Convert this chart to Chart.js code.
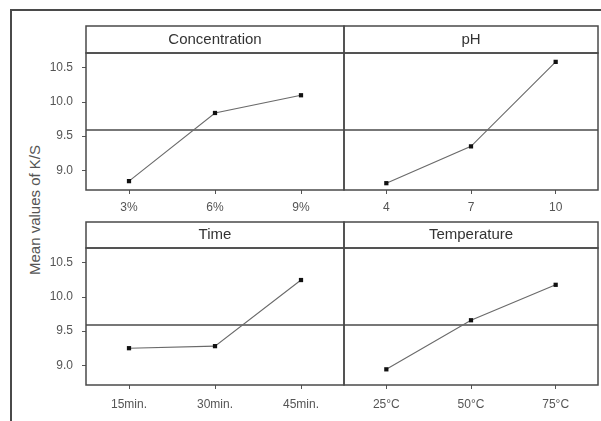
<!DOCTYPE html>
<html><head><meta charset="utf-8">
<script src="https://cdn.jsdelivr.net/npm/chart.js@4"></script>
<style>
html,body{margin:0;padding:0;background:#fff}
body{width:601px;height:421px;overflow:hidden;position:relative;font-family:"Liberation Sans",Arial,sans-serif}
#frame{position:absolute;left:10px;top:9px;width:620px;height:440px;border-left:2px solid #4a4a4a;border-top:2px solid #4a4a4a}
canvas{position:absolute}
#ytitle{position:absolute;left:34px;top:210px;transform:translate(-50%,-50%) rotate(-90deg);white-space:nowrap;font-size:15px;color:#555}
</style></head><body>
<div id="frame"></div>
<div id="ytitle">Mean values of K/S</div>
<canvas id="c1" width="310" height="196" style="left:36px;top:24px"></canvas>
<canvas id="c2" width="260" height="196" style="left:340px;top:24px"></canvas>
<canvas id="c3" width="310" height="195" style="left:36px;top:220px"></canvas>
<canvas id="c4" width="260" height="195" style="left:340px;top:220px"></canvas>
<script>
// ---- data ----
const concLabels = ['3%', '6%', '9%'];
const concValues = [8.84, 9.84, 10.10];
const phLabels = ['4', '7', '10'];
const phValues = [8.81, 9.35, 10.59];
const timeLabels = ['15min.', '30min.', '45min.'];
const timeValues = [9.25, 9.28, 10.25];
const tempLabels = ['25°C', '50°C', '75°C'];
const tempValues = [8.94, 9.66, 10.18];
const yTickValues = [9.0, 9.5, 10.0, 10.5];
const grandMean = 9.59;
const yMin = 8.71;
const yMax = 10.72;

const LINE = '#4a4a4a';
const FONT = '"Liberation Sans", Arial, sans-serif';

const panelPlugin = {
  id: 'panelBox',
  beforeDatasetsDraw(chart) {
    const {ctx, chartArea: a, scales} = chart;
    ctx.save();
    ctx.strokeStyle = LINE;
    ctx.lineWidth = 1.5;
    ctx.strokeRect(a.left, 2, a.right - a.left, a.top - 2);
    ctx.strokeRect(a.left, a.top, a.right - a.left, a.bottom - a.top);
    const y = scales.y.getPixelForValue(grandMean);
    ctx.lineWidth = 1.3;
    ctx.beginPath();
    ctx.moveTo(a.left, y);
    ctx.lineTo(a.right, y);
    ctx.stroke();
    ctx.restore();
  }
};

function makePanel(id, title, labels, values, opts) {
  const showY = opts.showY;
  new Chart(document.getElementById(id), {
    type: 'line',
    data: {
      labels: labels,
      datasets: [{
        data: values,
        borderColor: '#6a6a6a',
        borderWidth: 1.1,
        pointBackgroundColor: '#111',
        pointBorderColor: '#111',
        pointRadius: 3,
        pointBorderWidth: 0,
        pointStyle: 'rect',
        tension: 0,
        fill: false
      }]
    },
    options: {
      responsive: false,
      animation: false,
      devicePixelRatio: 1,
      layout: {autoPadding: false, padding: {left: showY ? 0 : 4, right: 2, top: 0, bottom: 0}},
      plugins: {
        legend: {display: false},
        tooltip: {enabled: false},
        title: {
          display: true,
          text: title,
          fullSize: false,
          color: '#333',
          font: {family: FONT, size: 15, weight: 'normal', lineHeight: '17px'},
          padding: {top: opts.titleTop, bottom: 5}
        }
      },
      scales: {
        x: {
          type: 'category',
          offset: true,
          border: {display: false},
          grid: {display: true, drawOnChartArea: false, drawTicks: true, tickLength: 4, color: '#555', tickColor: '#555'},
          ticks: {color: '#555', font: {family: FONT, size: 12}, padding: opts.xPad, maxRotation: 0, autoSkip: false},
          afterFit(s) { s.height = 30; }
        },
        y: {
          display: showY,
          min: yMin,
          max: yMax,
          border: {display: false},
          grid: {display: true, drawOnChartArea: false, drawTicks: true, tickLength: 4, color: '#555', tickColor: '#555'},
          ticks: {color: '#555', font: {family: FONT, size: 12}, padding: 9, callback: v => Number(v).toFixed(1)},
          afterBuildTicks(s) { s.ticks = yTickValues.map(v => ({value: v})); },
          afterFit(s) { if (showY) s.width = 50; }
        }
      }
    },
    plugins: [panelPlugin]
  });
}

makePanel('c1', 'Concentration', concLabels, concValues, {showY: true, titleTop: 7, xPad: 6});
makePanel('c2', 'pH', phLabels, phValues, {showY: false, titleTop: 7, xPad: 6});
makePanel('c3', 'Time', timeLabels, timeValues, {showY: true, titleTop: 6, xPad: 8});
makePanel('c4', 'Temperature', tempLabels, tempValues, {showY: false, titleTop: 6, xPad: 8});
</script>
</body></html>
